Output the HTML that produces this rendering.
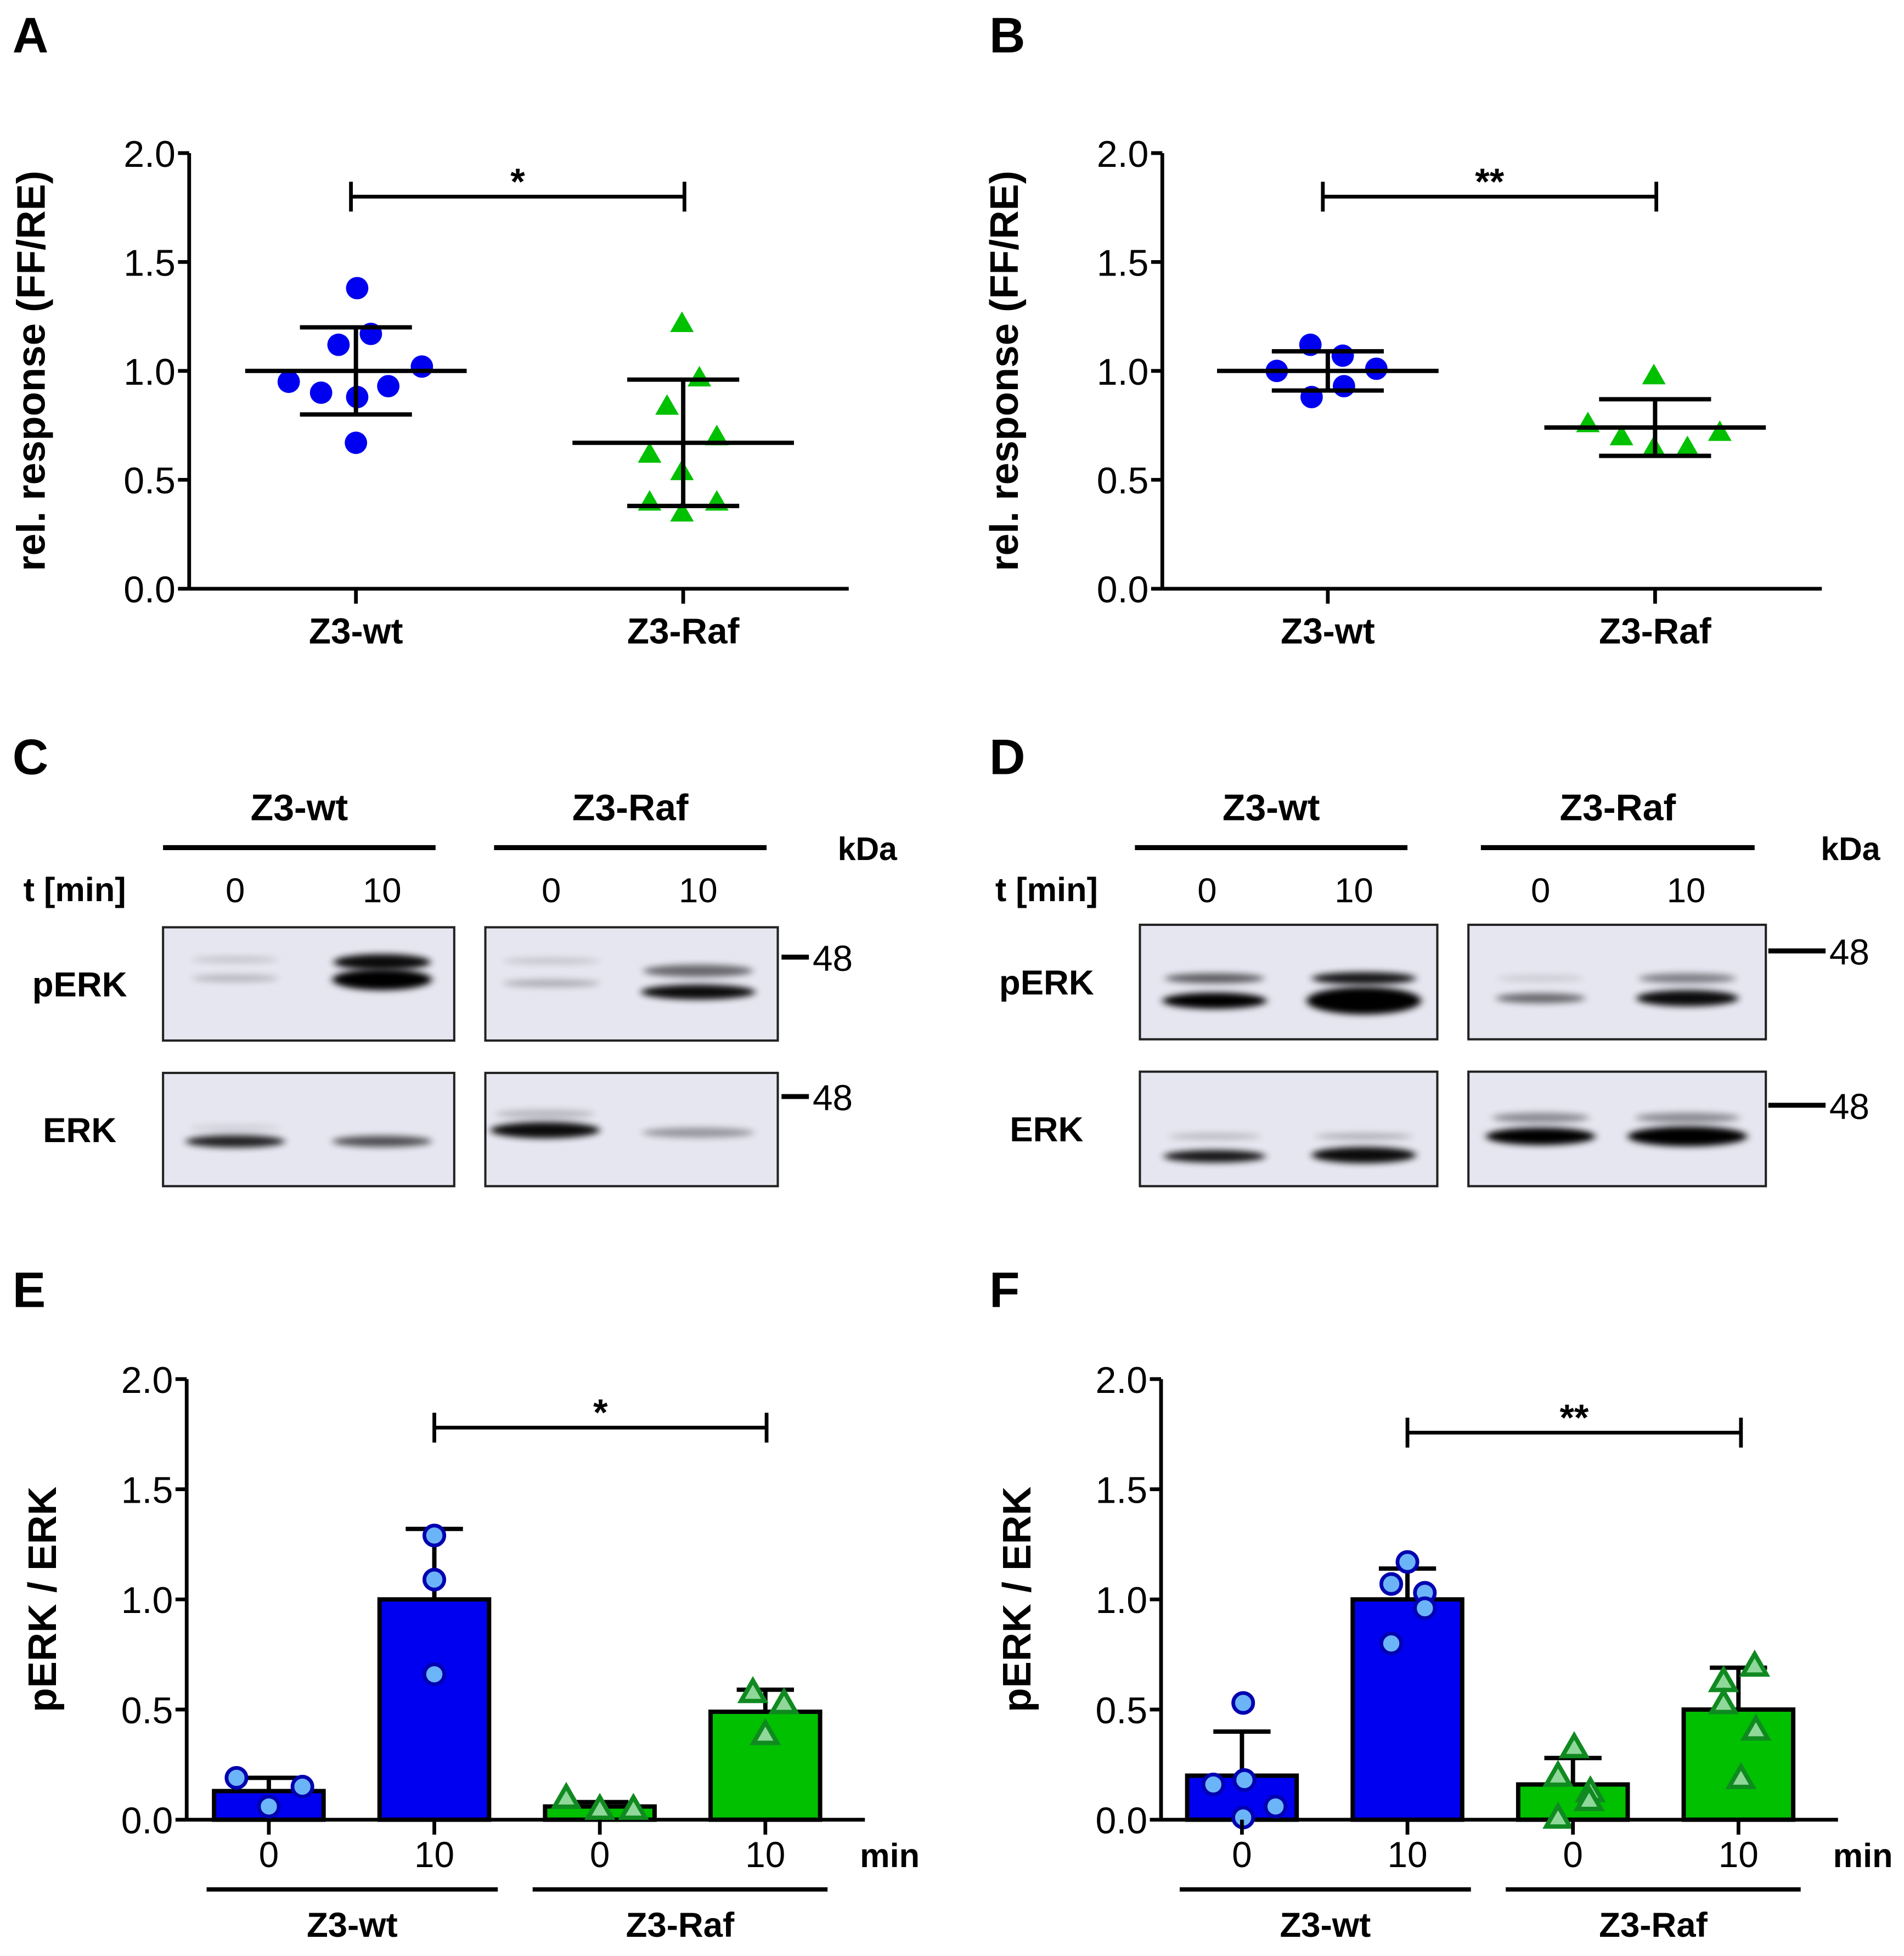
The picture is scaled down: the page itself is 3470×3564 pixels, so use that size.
<!DOCTYPE html>
<html><head><meta charset="utf-8"><style>
html,body{margin:0;padding:0;background:#fff}
svg{display:block}
text{font-family:"Liberation Sans",Arial,sans-serif}
</style></head><body>
<svg id="fig" width="3470" height="3564" viewBox="0 0 1530 1571.5" xmlns="http://www.w3.org/2000/svg">
<defs>
<filter id="blur" x="-50%" y="-150%" width="200%" height="400%"><feGaussianBlur stdDeviation="3.2 2.6"/></filter>
</defs>
<g font-weight="bold" font-size="40">
<text x="10" y="42">A</text>
<text x="795" y="42">B</text>
<text x="10" y="622">C</text>
<text x="795" y="622">D</text>
<text x="10" y="1050">E</text>
<text x="795" y="1050">F</text>
</g>
<g id="root"></g>
</svg>
<script>
// ---- Panel A data ----
const aCategories = ["Z3-wt", "Z3-Raf"];
const aWt = [1.38, 1.12, 1.17, 1.02, 0.95, 0.90, 0.88, 0.93, 0.67];
const aRaf = [1.21, 0.96, 0.83, 0.69, 0.61, 0.53, 0.39, 0.39, 0.34];
const aMean = [1.0, 0.67];
const aSd = [0.20, 0.29];
// ---- Panel B data ----
const bCategories = ["Z3-wt", "Z3-Raf"];
const bWt = [1.12, 1.07, 1.00, 1.01, 0.88, 0.93];
const bRaf = [0.97, 0.75, 0.69, 0.71, 0.64, 0.64];
const bMean = [1.0, 0.74];
const bSd = [0.09, 0.13];
// ---- Panel E data ----
const eTimes = ["0", "10", "0", "10"];
const eMeans = [0.13, 1.0, 0.06, 0.49];
const eErrTop = [0.19, 1.32, 0.08, 0.59];
const ePoints = [[0.19, 0.15, 0.06], [1.29, 1.09, 0.66], [0.09, 0.04, 0.04], [0.57, 0.52, 0.38]];
// ---- Panel F data ----
const fTimes = ["0", "10", "0", "10"];
const fMeans = [0.20, 1.0, 0.16, 0.50];
const fErrTop = [0.40, 1.14, 0.28, 0.69];
const fPoints = [[0.53, 0.16, 0.18, 0.06, 0.01], [1.17, 1.07, 1.03, 0.96, 0.80], [0.32, 0.19, 0.12, 0.08, 0.0], [0.69, 0.62, 0.52, 0.40, 0.18]];
const yTicks = ["0.0", "0.5", "1.0", "1.5", "2.0"];

const NS = "http://www.w3.org/2000/svg";
const root = document.getElementById("root");
function mk(tag, attrs, parent, txt) {
  const e = document.createElementNS(NS, tag);
  for (const k in attrs) e.setAttribute(k, attrs[k]);
  if (txt !== undefined) e.textContent = txt;
  (parent || root).appendChild(e);
  return e;
}
const BLUE = "#0000f0", GREEN = "#00c000";

function axes(g, x0, x1, yTop, yBot, title, tcx) {
  const y = v => yBot - (yBot - yTop) * v / 2;
  let e = mk("line", {x1: x0, y1: yTop, x2: x0, y2: yBot, stroke: "#000", "stroke-width": 3}, g);
  
  
  e = mk("line", {x1: x0, y1: yBot, x2: x1, y2: yBot, stroke: "#000", "stroke-width": 3}, g);
  
  
  yTicks.forEach(t => {
    const yy = y(parseFloat(t));
    const l = mk("line", {x1: x0 - 9, y1: yy, x2: x0, y2: yy, stroke: "#000", "stroke-width": 3}, g);
    
    
    const tx = mk("text", {x: x0 - 11, y: yy + 11, "text-anchor": "end", "font-size": 30}, g, t);
    
    
  });
  const tt = mk("text", {x: 0, y: 0, "text-anchor": "middle", "font-size": 32, "font-weight": "bold", transform: `translate(${tcx},${(yTop + yBot) / 2}) rotate(-90)`}, g, title);
  
  
  return y;
}
function tri(g, cx, cy, s, fill, stroke, sw) {
  const p = mk("polygon", {points: `${cx},${cy - s} ${cx - s * 0.95},${cy + s * 0.65} ${cx + s * 0.95},${cy + s * 0.65}`, fill: fill, stroke: stroke, "stroke-width": sw || 0}, g);
  return p;
}
function sig(g, xa, xb, yy, label) {
  const p = mk("path", {d: `M${xa},${yy + 12}V${yy - 12}M${xa},${yy}H${xb}M${xb},${yy - 12}V${yy + 12}`, stroke: "#000", "stroke-width": 3, fill: "none"}, g);
  
  
  const t = mk("text", {x: (xa + xb) / 2, y: yy - 2, "text-anchor": "middle", "font-size": 30, "font-weight": "bold"}, g, label);
  
  
}

function scatter(x0, x1, cats, catX, wt, raf, means, sds, offs, sigLabel, name) {
  const g = mk("g", {});
  
  
  const y = axes(g, x0, x1, 123, 473, "rel. response (FF/RE)", x0 - 116);
  cats.forEach((c, i) => {
    const tk = mk("line", {x1: catX[i], y1: 473, x2: catX[i], y2: 485, stroke: "#000", "stroke-width": 3}, g);
    
    
    const t = mk("text", {x: catX[i], y: 517, "text-anchor": "middle", "font-size": 29, "font-weight": "bold"}, g, c);
    
    
  });
  wt.forEach((v, i) => {
    const c = mk("circle", {cx: catX[0] + offs[0][i], cy: y(v), r: 9, fill: BLUE}, g);
    
    
  });
  raf.forEach((v, i) => {
    const p = tri(g, catX[1] + offs[1][i], y(v) - 1, 10, GREEN);
    
    
  });
  means.forEach((m, i) => {
    const cx = catX[i];
    const p = mk("path", {d: `M${cx - 89},${y(m)}H${cx + 89}M${cx - 45},${y(m - sds[i])}H${cx + 45}M${cx - 45},${y(m + sds[i])}H${cx + 45}M${cx},${y(m - sds[i])}V${y(m + sds[i])}`, stroke: "#000", "stroke-width": 3.5, fill: "none"}, g);
    
    
  });
  sig(g, catX[0] - 4, catX[1] + 1, 158, sigLabel);
}
scatter(152, 682, aCategories, [286, 549], aWt, aRaf, aMean, aSd,
  [[1, -14, 12, 53, -54, -28, 1, 26, 0], [-1, 13, -13, 27, -27, -1, -27, 27, -1]], "*", "panel-a-chart");
scatter(934, 1464, bCategories, [1067, 1330], bWt, bRaf, bMean, bSd,
  [[-14, 12, -41, 39, -13, 13], [-1, -54, -27, 52, -1, 26]], "**", "panel-b-chart");

function bars(x0, x1, cx, means, errTop, pts, offs, times, sigLabel, name) {
  const g = mk("g", {});
  
  
  const y = axes(g, x0, x1, 1108, 1462, "pERK / ERK", x0 - 105);
  means.forEach((m, i) => {
    const col = i < 2 ? BLUE : GREEN;
    const eb = mk("path", {d: `M${cx[i]},${y(m)}V${y(errTop[i])}M${cx[i] - 23},${y(errTop[i])}H${cx[i] + 23}`, stroke: "#000", "stroke-width": 3.5}, g);
    
    
    const r = mk("rect", {x: cx[i] - 44, y: y(m), width: 88, height: y(0) - y(m), fill: col, stroke: "#000", "stroke-width": 3.5}, g);
    
    
    pts[i].forEach((v, j) => {
      let p;
      if (i < 2) p = mk("circle", {cx: cx[i] + offs[i][j], cy: y(v), r: 8, fill: "#6cb4f8", stroke: "#0000b0", "stroke-width": 3}, g);
      else p = tri(g, cx[i] + offs[i][j], y(v) - 1, 10, "#8fd89a", "#108a20", 3.5);
      
      
    });
    const tk = mk("line", {x1: cx[i], y1: 1462, x2: cx[i], y2: 1474, stroke: "#000", "stroke-width": 3}, g);
    
    
    const t = mk("text", {x: cx[i], y: 1500, "text-anchor": "middle", "font-size": 29}, g, times[i]);
    
    
  });
  const mn = mk("text", {x: x1 + 20, y: 1500, "font-size": 27, "font-weight": "bold", "text-anchor": "middle"}, g, "min");
  
  
  [["Z3-wt", cx[0] - 50, cx[1] + 51], ["Z3-Raf", cx[2] - 54, cx[3] + 50]].forEach(([lab, a, b]) => {
    const l = mk("line", {x1: a, y1: 1518, x2: b, y2: 1518, stroke: "#000", "stroke-width": 3.5}, g);
    
    
    const t = mk("text", {x: (a + b) / 2, y: 1556, "text-anchor": "middle", "font-size": 28, "font-weight": "bold"}, g, lab);
    
    
  });
  return y;
}
const ye = bars(150, 695, [216, 349, 482, 615], eMeans, eErrTop, ePoints,
  [[-26, 27, 0], [0, 0, 0], [-27, 0, 27], [-10, 15, 0]], eTimes, "*", "panel-e-chart");
sig(root, 349, 616, 1147, "*");
const yf = bars(933, 1477, [998, 1131, 1264, 1397], fMeans, fErrTop, fPoints,
  [[1, -23, 2, 27, 1], [0, -13, 14, 14, -13], [1, -12, 14, 13, -12], [13, -12, -12, 14, 2]], fTimes, "**", "panel-f-chart");
sig(root, 1131, 1399, 1151, "**");

// ---- Western blots ----
function blot(o) {
  const g = mk("g", {});
  
  
  const hdr = [["Z3-wt", o.g1], ["Z3-Raf", o.g2]];
  hdr.forEach(([lab, [a, b]]) => {
    const t = mk("text", {x: (a + b) / 2, y: 659, "text-anchor": "middle", "font-size": 30, "font-weight": "bold"}, g, lab);
    
    
    const l = mk("line", {x1: a, y1: 681, x2: b, y2: 681, stroke: "#000", "stroke-width": 4}, g);
    
    
  });
  let t = mk("text", {x: o.kx, y: 691, "text-anchor": "middle", "font-size": 26, "font-weight": "bold"}, g, "kDa");
  
  
  t = mk("text", {x: o.tx, y: 724, "text-anchor": "middle", "font-size": 27, "font-weight": "bold"}, g, "t [min]");
  
  
  o.lanes.forEach((lx, i) => {
    const tt = mk("text", {x: lx, y: 725, "text-anchor": "middle", "font-size": 28}, g, i % 2 ? "10" : "0");
    
    
  });
  [["pERK", o.pY, o.pBands, o.m1], ["ERK", o.eY, o.eBands, o.m2]].forEach(([lab, [y0, y1], bands, my]) => {
    const lt = mk("text", {x: o.lx, y: (y0 + y1) / 2 + 10, "text-anchor": "middle", "font-size": 28, "font-weight": "bold"}, g, lab);
    
    
    o.boxes.forEach(([bx0, bx1]) => {
      const r = mk("rect", {x: bx0, y: y0, width: bx1 - bx0, height: y1 - y0, fill: "#e6e6f0", stroke: "#222", "stroke-width": 1.8}, g);
      
      
    });
    bands.forEach(([cx, cy, w, h, op]) => {
      const b = mk("ellipse", {cx: cx, cy: cy, rx: w / 2, ry: h / 2, fill: "#000", opacity: op, filter: "url(#blur)"}, g);
      
      
    });
    const ml = mk("line", {x1: o.mx[0], y1: my, x2: o.mx[1], y2: my, stroke: "#000", "stroke-width": 4}, g);
    
    
    const mt = mk("text", {x: o.mx[1] + 3, y: my + 11, "font-size": 29}, g, "48");
    
    
  });
}
blot({name: "panel-c-blot", g1: [131, 350], g2: [397, 616], kx: 697, tx: 60, lanes: [189, 307, 443, 561], lx: 64,
  boxes: [[131, 365], [390, 625]], pY: [745, 836], eY: [862, 953], m1: 769, m2: 881, mx: [628, 650],
  pBands: [[189, 771, 70, 5, 0.15], [189, 786, 70, 6, 0.2], [307, 773, 78, 13, 0.95], [307, 787, 80, 17, 1],
    [443, 772, 78, 5, 0.15], [443, 790, 78, 6, 0.25], [561, 780, 88, 10, 0.55], [561, 797, 92, 12, 0.95]],
  eBands: [[189, 906, 74, 5, 0.1], [189, 917, 80, 10, 0.85], [307, 917, 80, 9, 0.65], [438, 895, 80, 7, 0.2], [438, 908, 88, 13, 0.95], [561, 910, 90, 8, 0.35]]});
blot({name: "panel-d-blot", g1: [912, 1131], g2: [1190, 1410], kx: 1487, tx: 841, lanes: [970, 1088, 1238, 1355], lx: 841,
  boxes: [[916, 1155], [1180, 1419]], pY: [743, 835], eY: [861, 953], m1: 764, m2: 888, mx: [1421, 1467],
  pBands: [[976, 786, 80, 8, 0.6], [976, 804, 84, 13, 1], [1096, 786, 84, 10, 0.9], [1096, 804, 92, 22, 1],
    [1238, 786, 70, 5, 0.12], [1238, 802, 72, 8, 0.55], [1356, 786, 78, 8, 0.45], [1356, 802, 82, 13, 0.95]],
  eBands: [[976, 913, 74, 5, 0.2], [976, 929, 82, 10, 0.9], [1096, 913, 78, 5, 0.25], [1096, 928, 84, 13, 0.95],
    [1238, 898, 78, 8, 0.4], [1238, 913, 88, 14, 1], [1356, 898, 84, 8, 0.4], [1356, 913, 96, 16, 1]]});
</script>
</body></html>
